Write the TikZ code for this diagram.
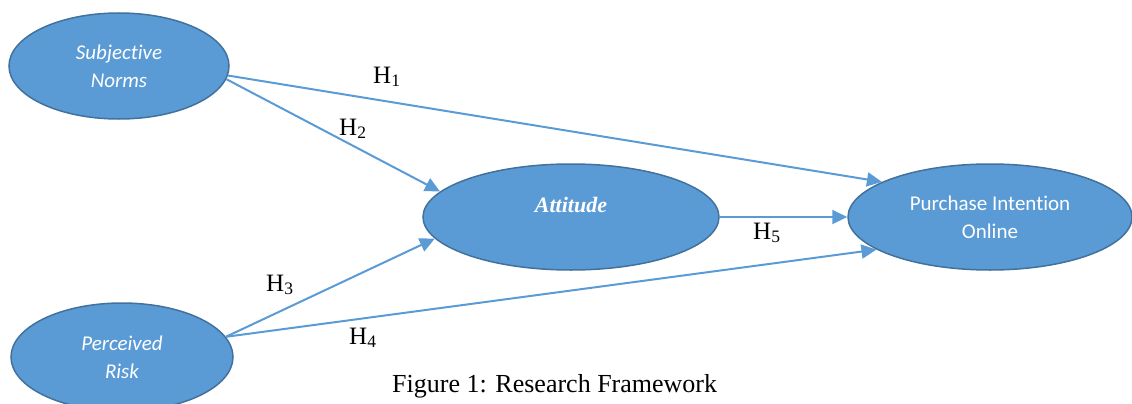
\documentclass[tikz,border=0pt]{standalone}
\usepackage{fontspec}
\setmainfont{Liberation Serif}
\newfontfamily\calibrifont[Ligatures=NoCommon]{Carlito}
\usetikzlibrary{shapes.geometric,arrows.meta}
\definecolor{boxfill}{HTML}{5B9BD5}
\definecolor{boxedge}{HTML}{41719C}
\begin{document}
\begin{tikzpicture}[x=1pt,y=-1pt,
  construct/.style={ellipse, fill=boxfill, draw=boxedge, line width=1.5pt,
    inner sep=0pt, text=white, align=center},
  cfont/.style={font=\calibrifont\fontsize{21}{28}\selectfont},
  cfontit/.style={font=\calibrifont\itshape\fontsize{21}{28}\selectfont},
  link/.style={draw=boxfill, line width=2pt, -{Triangle[length=15pt,width=14pt]}},
  hyp/.style={font=\fontsize{25}{30}\selectfont, anchor=base west, inner sep=0pt}
]
\useasboundingbox (0,0) rectangle (1132,404);

% constructs
\node[construct, cfontit, minimum width=220pt, minimum height=106pt] (sn) at (119,66)
  {Subjective\\Norms};
\node[construct, cfontit, minimum width=222pt, minimum height=108pt] (pr) at (122,357)
  {Perceived\\Risk};
\node[construct, minimum width=296pt, minimum height=106pt] (att) at (571,217) {};
\node[font=\fontsize{22}{26}\selectfont\bfseries\itshape, text=white, inner sep=0pt]
  (attlabel) at (571,205) {Attitude};
\node[construct, cfont, minimum width=284pt, minimum height=106pt] (pi) at (990,217)
  {Purchase Intention\\Online};

% hypothesised paths
\draw[link] (sn.-5) -- (pi.162.5);
\draw[link] (sn.-7) -- (att.169.4);
\draw[link] (pr.11.5) -- (att.189.6);
\draw[link] (pr.11.5) -- (pi.196.7);
\draw[link] (att.east) -- (pi.west);

% path labels
\node[hyp] (h1) at (373,83) {H\textsubscript{1}};
\node[hyp] (h2) at (339,135) {H\textsubscript{2}};
\node[hyp] (h3) at (266,291) {H\textsubscript{3}};
\node[hyp] (h4) at (349,344) {H\textsubscript{4}};
\node[hyp] (h5) at (753,239) {H\textsubscript{5}};

% caption
\node[font=\fontsize{26}{30}\selectfont, anchor=base west, inner sep=0pt]
  (caption) at (392,392) {Figure 1: Research Framework};
\end{tikzpicture}
\end{document}
